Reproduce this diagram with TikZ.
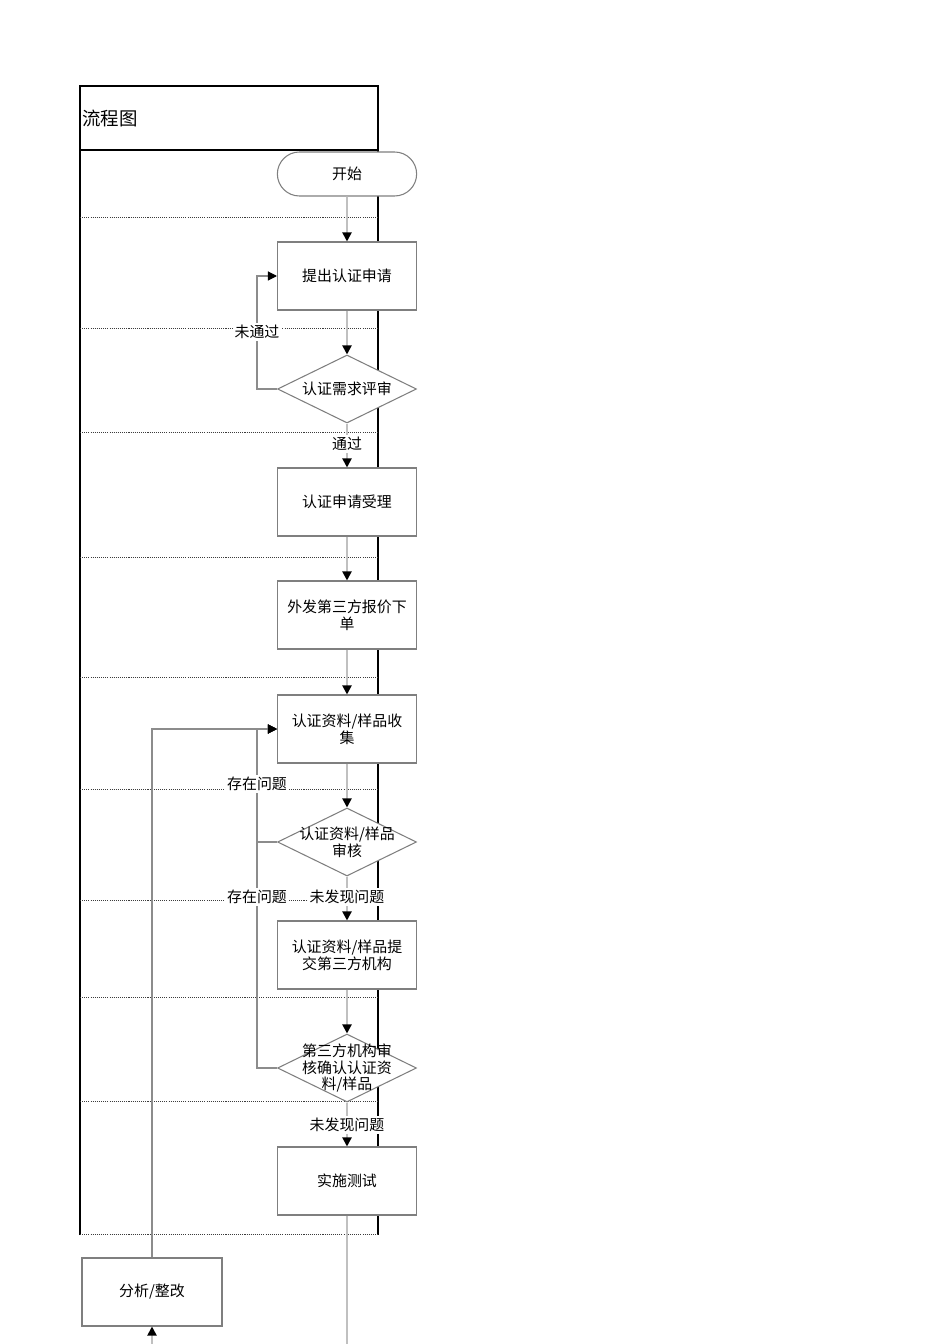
\documentclass[tikz,border=0pt]{standalone}
\usepackage{fontspec}
\setmainfont{Noto Sans CJK SC}
\usetikzlibrary{arrows.meta,shapes.geometric,shapes.misc}
\definecolor{rahmen}{HTML}{000000}
\definecolor{kante}{HTML}{7F7F7F}
\definecolor{fluss}{HTML}{C0C0C0}
\definecolor{schleife}{HTML}{8C8C8C}
\definecolor{punkt}{HTML}{3C3C3C}
\newcommand{\txt}{\fontsize{8.5}{9.6}\selectfont}
\tikzset{
  schritt/.style={draw=kante,fill=white,line width=0.6pt,minimum width=2.78cm,minimum height=1.36cm,inner sep=0pt,align=center,font=\txt},
  raute/.style={diamond,draw=kante,fill=white,line width=0.6pt,minimum width=2.78cm,minimum height=1.36cm,inner sep=0pt},
  anfang/.style={rounded rectangle,draw=kante,fill=white,line width=0.6pt,minimum width=3.02cm,minimum height=0.88cm,font=\txt},
  fl/.style={-{Triangle[length=1.8mm,width=1.8mm,color=black]},fluss,line width=1.1pt},
  sl/.style={-{Triangle[length=1.8mm,width=1.8mm,color=black]},schleife,line width=0.6pt},
  trenn/.style={punkt,line width=0.5pt,dash pattern=on 0.6pt off 0.6pt},
  rand/.style={rahmen,line width=1.1pt},
  marke/.style={fill=white,inner sep=1pt,font=\txt},
}
\begin{document}
\begin{tikzpicture}[x=0.02cm,y=-0.02cm]
  \useasboundingbox (0,0) rectangle (950,1344);
  % Rahmen
  \draw[rand] (80,1235) -- (80,86) -- (378,86) -- (378,1235);
  \draw[rand] (80,150) -- (378,150);
  \node[anchor=west,inner sep=0pt,font=\fontsize{10.5}{12}\selectfont] (titel) at (82,118) {流程图};
  \foreach \yy in {217,328,432,557,677,789,900,997,1101,1234}
    \draw[trenn] (80,\yy) -- (378,\yy);
  % Schritte
  \node[anfang] (start) at (347,174) {开始};
  \node[schritt] (antrag) at (347,276) {提出认证申请};
  \node[raute,label={[font=\txt]center:认证需求评审}] (bedarf) at (347,389) {};
  \node[schritt] (annahme) at (347,502) {认证申请受理};
  \node[schritt] (angebot) at (347,615) {外发第三方报价下\\单};
  \node[schritt] (sammeln) at (347,729) {认证资料/样品收\\集};
  \node[raute,label={[font=\txt,align=center]center:认证资料/样品\\审核}] (pruef) at (347,842) {};
  \node[schritt] (einreich) at (347,955) {认证资料/样品提\\交第三方机构};
  \node[raute,label={[font=\txt,align=center]center:第三方机构审\\核确认认证资\\料/样品}] (dritt) at (347,1068) {};
  \node[schritt] (test) at (347,1181) {实施测试};
  \node[schritt,minimum width=2.8cm] (analyse) at (152,1292) {分析/整改};
  \coordinate (unten) at (347,1344);
  \coordinate (zurueck) at (152,1344);
  % Hauptfluss
  \draw[fl] (start) -- (antrag);
  \draw[fl] (antrag) -- (bedarf);
  \draw[fl] (bedarf) -- (annahme);
  \draw[fl] (annahme) -- (angebot);
  \draw[fl] (angebot) -- (sammeln);
  \draw[fl] (sammeln) -- (pruef);
  \draw[fl] (pruef) -- (einreich);
  \draw[fl] (einreich) -- (dritt);
  \draw[fl] (dritt) -- (test);
  \draw[fluss,line width=1.1pt] (test) -- (unten);
  \draw[fl] (zurueck) -- (analyse);
  % Rueckwege
  \draw[sl] (analyse.north) |- (sammeln.west);
  \draw[sl] (bedarf.west) -- ++(-20,0) |- (antrag.west);
  \draw[sl] (pruef.west) -- ++(-20,0) |- (sammeln.west);
  \draw[sl] (dritt.west) -- ++(-20,0) |- (sammeln.west);
  % Beschriftungen
  \node[marke] (m1) at (257,332) {未通过};
  \node[marke] (m2) at (347,444) {通过};
  \node[marke] (m3) at (257,784) {存在问题};
  \node[marke] (m4) at (257,897) {存在问题};
  \node[marke] (m5) at (347,897) {未发现问题};
  \node[marke] (m6) at (347,1125) {未发现问题};
\end{tikzpicture}
\end{document}
